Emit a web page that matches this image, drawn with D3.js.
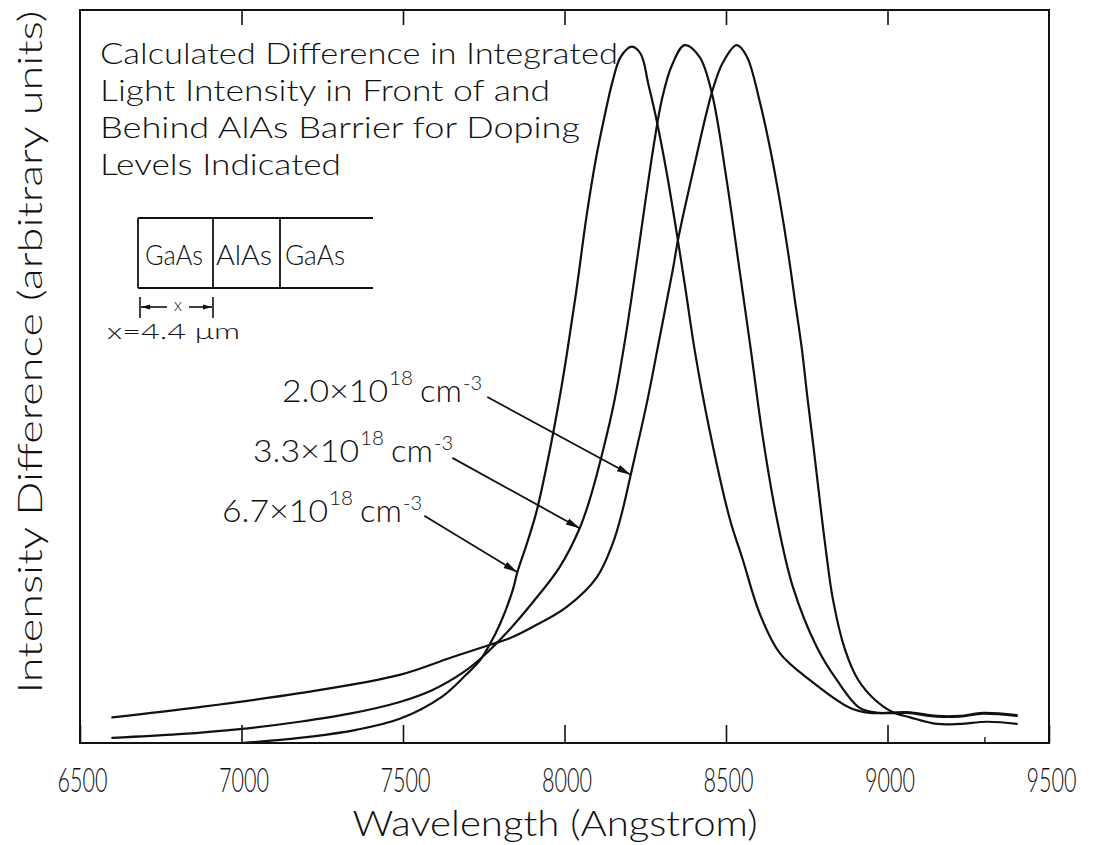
<!DOCTYPE html>
<html><head><meta charset="utf-8">
<script src="https://cdn.jsdelivr.net/npm/d3@7"></script>
<style>
body{margin:0;background:#fff}
text{font-family:"Lato","Inter","DejaVu Sans",sans-serif;font-weight:300;fill:#111}
</style>
</head><body>
<svg id="c" width="1103" height="845"></svg>
<script>
// ---- data (wavelength in Angstrom, intensity difference in arbitrary units) ----
// 2.0e18 cm^-3 (peak ~8530 A)
const wl20 = [6600,6870,7180,7490,7645,7770,7830,7900,8005,8100,8150,8180,8205,8255,8295,8335,8353,8397,8456,8490,8533,8564,8604,8638,8666,8691,8713,8735,8753,8772,8790,8809,8831,8868,8908,8961,9017,9070,9153,9224,9308,9400];
const int20 = [3.5,4.9,6.8,9.3,11.6,13.4,14.3,15.8,18.5,22.6,27.3,31.8,36.6,46.4,55.4,64.5,69.0,77.8,88.7,92.8,95.2,93.7,87.6,80.8,74.1,67.3,60.5,53.7,46.8,40.0,33.2,26.4,19.6,12.8,8.7,5.9,4.2,3.5,2.6,2.6,2.9,2.6];
// 3.3e18 cm^-3 (peak ~8370 A)
const wl33 = [6600,6805,6995,7180,7335,7490,7590,7685,7745,7820,7900,7985,8047,8078,8118,8155,8189,8220,8251,8279,8301,8332,8372,8418,8456,8502,8542,8577,8614,8657,8707,8781,8843,8914,8976,9060,9153,9224,9296,9400];
const int33 = [0.7,1.2,1.9,2.9,4.0,5.6,7.2,9.6,11.7,15.0,19.1,24.0,29.3,33.2,39.7,46.8,55.4,64.5,74.1,82.3,87.7,92.4,95.2,93.6,88.7,76.8,64.5,53.6,41.7,30.7,21.3,13.1,8.6,4.8,4.1,4.1,3.6,3.6,4.0,3.7];
// 6.7e18 cm^-3 (peak ~8210 A)
const wl67 = [7000,7180,7355,7490,7620,7695,7737,7768,7800,7840,7854,7882,7913,7947,7978,8006,8037,8068,8096,8124,8149,8174,8208,8236,8260,8285,8316,8347,8375,8403,8449,8511,8552,8604,8666,8759,8883,8945,9060,9153,9224,9296,9400];
const int67 = [0,0.7,1.8,3.3,6.3,9.3,11.2,13.4,16.2,20.9,23.3,27.0,31.5,38.3,45.4,52.7,61.8,71.8,79.4,85.5,90.3,93.6,95.0,94.0,89.8,85.0,77.9,69.7,61.8,53.6,42.7,30.7,25.0,17.7,12.3,8.6,4.8,4.1,4.2,3.7,3.7,4.1,3.8];

const xTickValues = [6500,7000,7500,8000,8500,9000,9500];
const xTickLabels = ["6500","7000","7500","8000","8500","9000","9500"];
const topTickValues = [7000,7500,8000,8500,9000];
const minorTickValues = [9300];

const titleLines = ["Calculated Difference in Integrated","Light Intensity in Front of and","Behind AlAs Barrier for Doping","Levels Indicated"];
const insetLayers = ["GaAs","AlAs","GaAs"];
const dopingMantissa = ["2.0","3.3","6.7"];
const dopingExponent = ["18","18","18"];
// arrow annotations in data coordinates: start and tip
const arrowStartWl = [7761,7653,7566];
const arrowStartInt = [47.2,38.9,31.0];
const arrowTipWl = [8205,8047,7854];
const arrowTipInt = [36.6,29.3,23.3];

const xLabel = "Wavelength (Angstrom)";
const yLabel = "Intensity Difference (arbitrary units)";

// ---- drawing ----
const svg = d3.select("#c");
const x = d3.scaleLinear().domain([6500,9500]).range([80,1049]);
const y = d3.scaleLinear().domain([0,100]).range([743,10]);

const defs = svg.append("defs");
defs.append("marker")
  .attr("id","ah").attr("markerUnits","userSpaceOnUse")
  .attr("markerWidth",15).attr("markerHeight",10)
  .attr("refX",14).attr("refY",5).attr("orient","auto")
  .append("path").attr("d","M0,1.5 L14,5 L0,8.5 Z").attr("fill","#111");
defs.append("marker")
  .attr("id","ahs").attr("markerUnits","userSpaceOnUse")
  .attr("markerWidth",10).attr("markerHeight",8)
  .attr("refX",9).attr("refY",4).attr("orient","auto")
  .append("path").attr("d","M0,1.5 L9,4 L0,6.5 Z").attr("fill","#111");

// frame
svg.append("rect").attr("x",x(6500)).attr("y",y(100))
  .attr("width",x(9500)-x(6500)).attr("height",y(0)-y(100))
  .attr("fill","none").attr("stroke","#111").attr("stroke-width",2);

// bottom axis
const gx = svg.append("g").attr("transform",`translate(0,${y(0)})`)
  .call(d3.axisBottom(x).tickValues(xTickValues).tickFormat((d,i)=>xTickLabels[i])
    .tickSizeInner(-18).tickSizeOuter(0).tickPadding(26));
gx.attr("font-family",null).attr("font-size",null);
gx.select(".domain").remove();
gx.selectAll(".tick line").attr("stroke","#111").attr("stroke-width",1.6);
gx.selectAll(".tick text").attr("font-size",33).attr("fill","#111")
  .attr("dx",2)
  .attr("textLength",50).attr("lengthAdjust","spacingAndGlyphs");

// minor bottom tick
const gm = svg.append("g").attr("transform",`translate(0,${y(0)})`)
  .call(d3.axisBottom(x).tickValues(minorTickValues).tickFormat("").tickSizeInner(-6).tickSizeOuter(0));
gm.select(".domain").remove();
gm.selectAll(".tick line").attr("stroke","#111").attr("stroke-width",1.4);

// top axis
const gt = svg.append("g").attr("transform",`translate(0,${y(100)})`)
  .call(d3.axisTop(x).tickValues(topTickValues).tickFormat("").tickSizeInner(-15).tickSizeOuter(0));
gt.select(".domain").remove();
gt.selectAll(".tick line").attr("stroke","#111").attr("stroke-width",1.6);

// curves
const line = d3.line().x(d=>x(d[0])).y(d=>y(d[1])).curve(d3.curveCatmullRom.alpha(0.5));
const series = [[wl20,int20],[wl33,int33],[wl67,int67]];
svg.append("g").selectAll("path").data(series).join("path")
  .attr("d",s=>line(s[0].map((w,i)=>[w,s[1][i]])))
  .attr("fill","none").attr("stroke","#111").attr("stroke-width",2.2)
  .attr("stroke-linejoin","round").attr("stroke-linecap","round");

// axis titles
svg.append("text").attr("x",555).attr("y",836).attr("text-anchor","middle")
  .attr("font-size",35).attr("textLength",405).attr("lengthAdjust","spacingAndGlyphs").text(xLabel);
svg.append("text").attr("transform","translate(42,352) rotate(-90)").attr("text-anchor","middle")
  .attr("font-size",34).attr("textLength",683).attr("lengthAdjust","spacingAndGlyphs").text(yLabel);

// title block
const titleWidths = [518,450,480,241];
const titleBase = [64,101,138,175];
svg.append("g").selectAll("text").data(titleLines).join("text")
  .attr("x",100).attr("y",(d,i)=>titleBase[i]).attr("font-size",29)
  .attr("textLength",(d,i)=>titleWidths[i]).attr("lengthAdjust","spacingAndGlyphs")
  .text(d=>d);

// inset layer diagram
const inset = svg.append("g").attr("stroke","#111").attr("stroke-width",1.8).attr("fill","none");
inset.append("line").attr("x1",138).attr("x2",373).attr("y1",218).attr("y2",218);
inset.append("line").attr("x1",138).attr("x2",373).attr("y1",288).attr("y2",288);
[138,213,280].forEach(xx=>inset.append("line").attr("x1",xx).attr("x2",xx).attr("y1",218).attr("y2",288));
const layerX = [145,216,285], layerW = [58,56,60];
svg.append("g").selectAll("text").data(insetLayers).join("text")
  .attr("x",(d,i)=>layerX[i]).attr("y",265).attr("font-size",27)
  .attr("textLength",(d,i)=>layerW[i]).attr("lengthAdjust","spacingAndGlyphs").text(d=>d);
// dimension marker
const dim = svg.append("g").attr("stroke","#111").attr("stroke-width",1.6);
dim.append("line").attr("x1",140).attr("x2",140).attr("y1",297).attr("y2",318);
dim.append("line").attr("x1",213).attr("x2",213).attr("y1",297).attr("y2",318);
dim.append("line").attr("x1",167).attr("x2",141).attr("y1",307).attr("y2",307).attr("marker-end","url(#ahs)");
dim.append("line").attr("x1",189).attr("x2",212).attr("y1",307).attr("y2",307).attr("marker-end","url(#ahs)");
svg.append("text").attr("x",178).attr("y",311).attr("text-anchor","middle").attr("font-size",17).text("x");
svg.append("text").attr("x",107).attr("y",339).attr("font-size",22)
  .attr("textLength",133).attr("lengthAdjust","spacingAndGlyphs").text("x=4.4 μm");

// doping labels
const labelX0 = [282,253,222], labelBase = [402,462,522];
dopingMantissa.forEach((m,i)=>{
  const g = svg.append("g");
  const x0 = labelX0[i], b = labelBase[i];
  g.append("text").attr("x",x0).attr("y",b).attr("font-size",31)
    .attr("textLength",106).attr("lengthAdjust","spacingAndGlyphs").text(m+"×10");
  g.append("text").attr("x",x0+107).attr("y",b-17).attr("font-size",20)
    .attr("textLength",24).attr("lengthAdjust","spacingAndGlyphs").text(dopingExponent[i]);
  g.append("text").attr("x",x0+138).attr("y",b).attr("font-size",31)
    .attr("textLength",42).attr("lengthAdjust","spacingAndGlyphs").text("cm");
  g.append("text").attr("x",x0+181).attr("y",b-12).attr("font-size",20)
    .attr("textLength",19).attr("lengthAdjust","spacingAndGlyphs").text("-3");
});
svg.append("g").selectAll("line").data(arrowTipWl).join("line")
  .attr("x1",(d,i)=>x(arrowStartWl[i])).attr("y1",(d,i)=>y(arrowStartInt[i]))
  .attr("x2",(d,i)=>x(arrowTipWl[i])).attr("y2",(d,i)=>y(arrowTipInt[i]))
  .attr("stroke","#111").attr("stroke-width",1.8).attr("marker-end","url(#ah)");
</script>
</body></html>
